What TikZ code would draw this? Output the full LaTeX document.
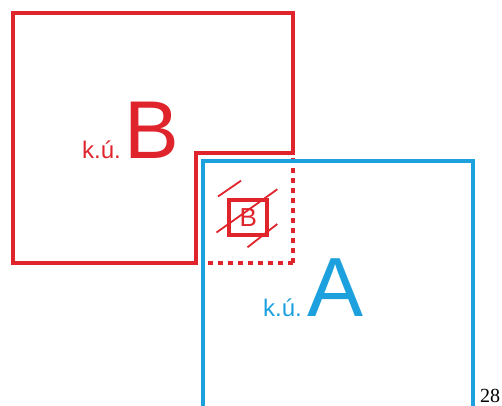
\documentclass[tikz,border=0pt]{standalone}
\usepackage{fontspec}
\setmainfont{Liberation Sans}
\newfontfamily\serifnum{Liberation Serif}
\definecolor{kured}{RGB}{224,36,44}
\definecolor{kublue}{RGB}{28,160,222}
\tikzset{
  redline/.style={draw=kured, line width=4pt},
  blueline/.style={draw=kublue, line width=4pt},
  reddots/.style={draw=kured, line width=4pt, dash pattern=on 5pt off 5pt},
  hatch/.style={draw=kured, line width=1.8pt},
  lbl/.style={inner sep=0pt, anchor=base west}
}
\begin{document}
\begin{tikzpicture}[x=1pt,y=-1pt]
\useasboundingbox (0,0) rectangle (502,405);
% red L-shaped boundary
\draw[redline, line join=miter] (13,13) -- (293,13) -- (293,153) -- (196,153) -- (196,263) -- (13,263) -- cycle;
% dotted continuation
\draw[reddots] (293,263) -- (293,157);
\draw[reddots] (293,263) -- (205,263);
% blue rectangle
\draw[blueline] (203,420) -- (203,161) -- (473,161) -- (473,420);
% small box with B
\node[draw=kured, line width=4pt, minimum width=38pt, minimum height=35pt, inner sep=0pt, text=kured, font=\fontsize{26}{26}\selectfont] (smallB) at (248.3,217.5) {B};
% hatch lines
\coordinate (h1a) at (218,196.5); \coordinate (h1b) at (241,180.7);
\coordinate (h2a) at (216.5,232.5); \coordinate (h2b) at (277.3,189.3);
\coordinate (h3a) at (247.5,247.3); \coordinate (h3b) at (277.3,224);
\draw[hatch] (h1a) -- (h1b);
\draw[hatch] (h2a) -- (h2b);
\draw[hatch] (h3a) -- (h3b);
% labels
\node[lbl, text=kured, font=\fontsize{24}{24}\selectfont] (kuB) at (82,158) {k.ú.};
\node[lbl, text=kured, font=\fontsize{82}{82}\selectfont] (bigB) at (124.5,158.5) {B};
\node[lbl, text=kublue, font=\fontsize{24}{24}\selectfont] (kuA) at (263,316.5) {k.ú.};
\node[lbl, text=kublue, font=\fontsize{84}{84}\selectfont] (bigA) at (307,316.5) {A};
\node[lbl] (num) at (480,402) {\serifnum\fontsize{20}{20}\selectfont 28};
\end{tikzpicture}
\end{document}
